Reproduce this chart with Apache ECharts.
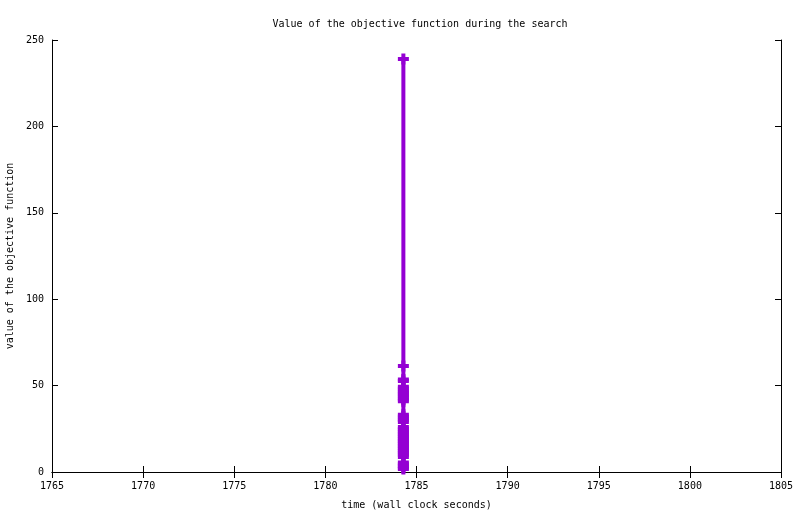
<!DOCTYPE html>
<html lang="en">

<head>
  <meta charset="UTF-8">
  <title>Objective function</title>
  <script src="https://cdn.jsdelivr.net/npm/echarts@6.0.0/dist/echarts.min.js"></script>
</head>

<body style="margin:0">
  <div id="main" style="width: 800px;height:514px;"></div>

  <script type="text/javascript">
    // Data: all points fall at about the same wall clock time
    const xTicks = [1765, 1770, 1775, 1780, 1785, 1790, 1795, 1800, 1805];
    const yTicks = [0, 50, 100, 150, 200, 250];
    const times = [1784.28];
    const objective = [
      239, 61.4,
      53.6, 52.6,
      49.3, 48.3, 47.2, 46.2, 45.1, 44.1, 43.0, 42.0, 41.0,
      33.2, 32.1, 31.0, 30.0, 28.9,
      26.0, 25.0, 24.0, 23.0, 22.0, 21.0, 20.0, 19.0, 18.0, 17.0, 16.0, 15.0,
      14.0, 13.0, 12.0, 11.0, 10.0, 8.7,
      5.5, 4.5, 3.5, 2.5, 1.8
    ];

    const font = 'DejaVu Sans Mono';
    const points = objective.map(v => [times[0], v]);

    let myChart = echarts.init(document.getElementById('main'));

    const axisCommon = {
      type: 'value',
      axisLine: { show: true, lineStyle: { color: '#000', width: 1 } },
      axisTick: { show: true, inside: true, length: 6, lineStyle: { color: '#000' } },
      splitLine: { show: false }
    };

    const options = {
      animation: false,
      title: {
        text: 'Value of the objective function during the search',
        left: 415,
        top: 14,
        textAlign: 'center',
        textStyle: { fontFamily: font, fontSize: 10, fontWeight: 'normal', color: '#000' }
      },
      grid: { left: 52, right: 19, top: 40, bottom: 42, containLabel: false, outerBoundsMode: 'none' },
      xAxis: [
        Object.assign({}, axisCommon, {
          min: xTicks[0], max: xTicks[xTicks.length - 1], interval: 5,
          name: 'time (wall clock seconds)',
          nameLocation: 'middle', nameGap: 28,
          nameTextStyle: { fontFamily: font, fontSize: 10, color: '#000' },
          axisLabel: { fontFamily: font, fontSize: 10, color: '#000', margin: 9, formatter: v => String(v) }
        }),
        Object.assign({}, axisCommon, {
          position: 'top',
          min: xTicks[0], max: xTicks[xTicks.length - 1], interval: 5,
          axisLabel: { show: false }
        })
      ],
      yAxis: [
        Object.assign({}, axisCommon, {
          min: yTicks[0], max: yTicks[yTicks.length - 1], interval: 50,
          name: 'value of the objective function',
          nameLocation: 'middle', nameGap: 37,
          nameTextStyle: { fontFamily: font, fontSize: 10, color: '#000' },
          axisLabel: { fontFamily: font, fontSize: 10, color: '#000', margin: 8 }
        }),
        Object.assign({}, axisCommon, {
          position: 'right',
          min: yTicks[0], max: yTicks[yTicks.length - 1], interval: 50,
          axisLabel: { show: false }
        })
      ],
      series: [{
        type: 'line',
        data: points,
        symbol: 'path://M3.5,0H7.5V3.5H11V7.5H7.5V11H3.5V7.5H0V3.5H3.5Z',
        symbolSize: 11,
        showAllSymbol: true,
        color: '#9400d3',
        itemStyle: { color: '#9400d3' },
        lineStyle: { color: '#9400d3', width: 4 }
      }]
    };

    myChart.setOption(options);
  </script>
</body>

</html>
